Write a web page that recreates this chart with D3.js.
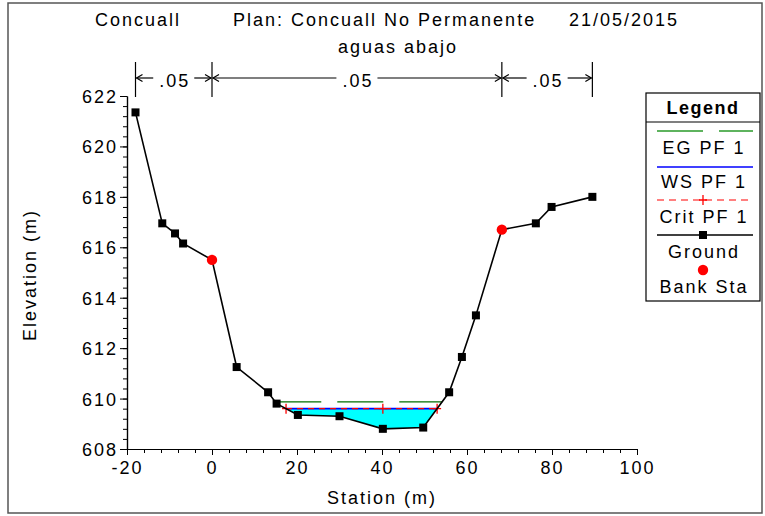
<!DOCTYPE html>
<html>
<head>
<meta charset="utf-8">
<script src="https://cdn.jsdelivr.net/npm/d3@7"></script>
<style>
  body { margin: 0; background: #fff; }
  text { font-family: "Liberation Sans", Arial, Helvetica, sans-serif; fill: #000; }
</style>
</head>
<body>
<svg id="chart" width="765" height="516"></svg>
<script>
// Cross-section survey: station (m) and ground elevation (m)
const stations = [-18, -11.7, -8.7, -6.8, 0, 5.8, 13.2, 15.2, 20.2, 30, 40.2, 49.7, 55.8, 58.8, 62.1, 68.2, 76.2, 79.9, 89.5];
const groundElev = [621.35, 616.95, 616.55, 616.15, 615.5, 611.25, 610.25, 609.8, 609.35, 609.3, 608.8, 608.85, 610.25, 611.65, 613.3, 616.7, 616.95, 617.6, 618.0];
const bankStations = [0, 68.2];

// Profile PF 1 results
const egElev = 609.87;
const wsElev = 609.6;
const critElev = 609.6;

// Manning's n for left overbank, channel, right overbank
const manningN = [".05", ".05", ".05"];

const xTicks = [-20, 0, 20, 40, 60, 80, 100];
const yTicks = [608, 610, 612, 614, 616, 618, 620, 622];
const titleParts = ["Concuall", "Plan: Concuall No Permanente", "21/05/2015"];
const subtitle = "aguas abajo";
const legendLabels = ["EG PF 1", "WS PF 1", "Crit PF 1", "Ground", "Bank Sta"];

const svg = d3.select("#chart");
const LS = "2px";
const FONT = "'Liberation Sans', Arial, sans-serif";

const x = d3.scaleLinear().domain([-20, 100]).range([127, 637]);
const y = d3.scaleLinear().domain([608, 622]).range([449, 96]);

const groundPts = stations.map((s, i) => [s, groundElev[i]]);

// outer frame
svg.append("rect").attr("x", 8).attr("y", 3).attr("width", 754).attr("height", 510)
  .attr("fill", "none").attr("stroke", "#555").attr("stroke-width", 1.5);

// titles
const titleX = [95, 233, 569];
titleParts.forEach((t, i) => {
  svg.append("text").attr("x", titleX[i]).attr("y", 26).attr("font-size", 18)
    .attr("letter-spacing", LS).text(t);
});
svg.append("text").attr("x", 398).attr("y", 53).attr("font-size", 18)
  .attr("letter-spacing", LS).attr("text-anchor", "middle").text(subtitle);

// where the ground crosses a level, searching outward from the thalweg
function crossings(level) {
  const iMin = d3.minIndex(groundElev);
  let left = null, right = null;
  for (let i = iMin; i > 0; i--) {
    const [s0, e0] = groundPts[i - 1], [s1, e1] = groundPts[i];
    if (e0 >= level && e1 <= level) { left = s0 + (s1 - s0) * (e0 - level) / (e0 - e1); break; }
  }
  for (let i = iMin; i < groundPts.length - 1; i++) {
    const [s0, e0] = groundPts[i], [s1, e1] = groundPts[i + 1];
    if (e0 <= level && e1 >= level) { right = s0 + (s1 - s0) * (level - e0) / (e1 - e0); break; }
  }
  return [left, right];
}

// water area
const [wl, wr] = crossings(wsElev);
const waterPoly = [[wl, wsElev]]
  .concat(groundPts.filter(p => p[0] > wl && p[0] < wr))
  .concat([[wr, wsElev]]);
svg.append("path")
  .attr("d", d3.line().x(d => x(d[0])).y(d => y(d[1]))(waterPoly) + "Z")
  .attr("fill", "#00ffff").attr("stroke", "none");

// energy grade line
const [el, er] = crossings(egElev);
svg.append("line").attr("x1", x(el)).attr("x2", x(er)).attr("y1", y(egElev)).attr("y2", y(egElev))
  .attr("stroke", "#006e00").attr("stroke-width", 1.3).attr("stroke-dasharray", "46,16");

// water surface
svg.append("line").attr("x1", x(wl)).attr("x2", x(wr)).attr("y1", y(wsElev)).attr("y2", y(wsElev))
  .attr("stroke", "#0000ff").attr("stroke-width", 1.6);

// critical depth
const [cl, cr] = crossings(critElev);
svg.append("line").attr("x1", x(cl)).attr("x2", x(cr)).attr("y1", y(critElev)).attr("y2", y(critElev))
  .attr("stroke", "#ff0000").attr("stroke-width", 1.4).attr("stroke-dasharray", "6,5");
const critMarks = [cl, stations[d3.minIndex(groundElev)], cr];
function plus(g, cx, cy) {
  g.append("path").attr("d", `M${cx - 4},${cy}H${cx + 4}M${cx},${cy - 5}V${cy + 5}`)
    .attr("stroke", "#ff0000").attr("stroke-width", 1.3).attr("fill", "none");
}
critMarks.forEach(s => plus(svg, x(s), y(critElev)));

// ground line and points
svg.append("path")
  .attr("d", d3.line().x(d => x(d[0])).y(d => y(d[1]))(groundPts))
  .attr("fill", "none").attr("stroke", "#000").attr("stroke-width", 1.6);
svg.selectAll("rect.gp").data(groundPts.filter(p => !bankStations.includes(p[0])))
  .join("rect").attr("class", "gp")
  .attr("x", d => x(d[0]) - 4).attr("y", d => y(d[1]) - 4)
  .attr("width", 8).attr("height", 8).attr("fill", "#000");

// bank stations
svg.selectAll("circle.bank").data(bankStations).join("circle").attr("class", "bank")
  .attr("cx", d => x(d))
  .attr("cy", d => y(groundElev[stations.indexOf(d)]))
  .attr("r", 5.2).attr("fill", "#ff0000");

// Manning's n zones
const nBounds = [stations[0], bankStations[0], bankStations[1], stations[stations.length - 1]];
nBounds.forEach(s => {
  svg.append("line").attr("x1", x(s)).attr("x2", x(s)).attr("y1", 62).attr("y2", 97)
    .attr("stroke", "#000").attr("stroke-width", 1.2);
});
function arrowHead(px, py, dir) {
  svg.append("path").attr("d", `M${px - dir * 6},${py - 3.5}L${px},${py}L${px - dir * 6},${py + 3.5}`)
    .attr("fill", "none").attr("stroke", "#000").attr("stroke-width", 1.2);
}
manningN.forEach((n, i) => {
  const a = x(nBounds[i]), b = x(nBounds[i + 1]), mid = (a + b) / 2;
  const t = svg.append("text").attr("x", mid + 1).attr("y", 87).attr("font-size", 18)
    .attr("letter-spacing", LS).attr("text-anchor", "middle").text(n);
  const w = t.node().getComputedTextLength();
  const ay = 78;
  svg.append("line").attr("x1", a + 1).attr("x2", mid - w / 2 - 5).attr("y1", ay).attr("y2", ay)
    .attr("stroke", "#000").attr("stroke-width", 1.2);
  svg.append("line").attr("x1", mid + w / 2 + 5).attr("x2", b - 1).attr("y1", ay).attr("y2", ay)
    .attr("stroke", "#000").attr("stroke-width", 1.2);
  arrowHead(a + 1, ay, -1);
  arrowHead(b - 1, ay, 1);
});

// axes
const plainNum = d => String(d);
const xAxis = svg.append("g").attr("transform", "translate(0,449)");
xAxis.call(d3.axisBottom(x).tickValues(d3.range(-20, 100.01, 4)).tickSize(4).tickSizeOuter(0).tickFormat(""));
xAxis.call(g => g.append("g").call(d3.axisBottom(x).tickValues(xTicks).tickSize(6).tickSizeOuter(0).tickFormat(plainNum)));
xAxis.selectAll("path.domain").attr("stroke", "#000").attr("stroke-width", 1.2);
xAxis.selectAll(".tick line").attr("stroke", "#000").attr("stroke-width", 1);
xAxis.selectAll("text").attr("font-size", 18).attr("letter-spacing", LS).attr("dy", null).attr("y", 25)
  .attr("fill", "#000").style("font-family", FONT);

const yAxis = svg.append("g").attr("transform", "translate(127,0)");
yAxis.call(d3.axisLeft(y).tickValues(d3.range(608, 622.01, 0.4)).tickSize(4).tickSizeOuter(0).tickFormat(""));
yAxis.call(g => g.append("g").call(d3.axisLeft(y).tickValues(yTicks).tickSize(7).tickSizeOuter(0).tickFormat(plainNum)));
yAxis.selectAll("path.domain").attr("stroke", "#000").attr("stroke-width", 1.2);
yAxis.selectAll(".tick line").attr("stroke", "#000").attr("stroke-width", 1);
yAxis.selectAll("text").attr("font-size", 18).attr("letter-spacing", LS).attr("x", -9).attr("dy", "0.36em")
  .attr("fill", "#000").style("font-family", FONT);

svg.append("text").attr("x", 382).attr("y", 504).attr("font-size", 18).attr("letter-spacing", LS)
  .attr("text-anchor", "middle").text("Station (m)");
svg.append("text").attr("transform", "translate(36,275) rotate(-90)").attr("font-size", 18)
  .attr("letter-spacing", LS).attr("text-anchor", "middle").text("Elevation (m)");

// legend
const lg = svg.append("g");
const LX = 646, LW = 114, LCX = LX + LW / 2;
lg.append("rect").attr("x", LX).attr("y", 93).attr("width", LW).attr("height", 208)
  .attr("fill", "#fff").attr("stroke", "#000").attr("stroke-width", 1.2);
lg.append("line").attr("x1", LX).attr("x2", LX + LW).attr("y1", 122).attr("y2", 122)
  .attr("stroke", "#000").attr("stroke-width", 1.2);
lg.append("text").attr("x", LCX).attr("y", 114).attr("font-size", 18).attr("font-weight", "bold")
  .attr("letter-spacing", "1.5px").attr("text-anchor", "middle").text("Legend");

const sx1 = 657, sx2 = 753;
lg.append("line").attr("x1", sx1).attr("x2", sx2).attr("y1", 131).attr("y2", 131)
  .attr("stroke", "#2a9a2a").attr("stroke-width", 1.3).attr("stroke-dasharray", "46,16");
lg.append("line").attr("x1", sx1).attr("x2", sx2).attr("y1", 167).attr("y2", 167)
  .attr("stroke", "#0000ff").attr("stroke-width", 1.6);
lg.append("line").attr("x1", sx1).attr("x2", sx2).attr("y1", 200).attr("y2", 200)
  .attr("stroke", "#ff0000").attr("stroke-width", 1.2).attr("stroke-dasharray", "7,5");
plus(lg, LCX, 200);
lg.append("line").attr("x1", sx1).attr("x2", sx2).attr("y1", 235).attr("y2", 235)
  .attr("stroke", "#000").attr("stroke-width", 1.6);
lg.append("rect").attr("x", LCX - 4).attr("y", 231).attr("width", 8).attr("height", 8).attr("fill", "#000");
lg.append("circle").attr("cx", LCX).attr("cy", 270).attr("r", 5.2).attr("fill", "#ff0000");

const labelY = [154, 188, 223, 258, 293];
legendLabels.forEach((t, i) => {
  lg.append("text").attr("x", LCX + 1).attr("y", labelY[i]).attr("font-size", 18)
    .attr("letter-spacing", LS).attr("text-anchor", "middle").text(t);
});
</script>
</body>
</html>
